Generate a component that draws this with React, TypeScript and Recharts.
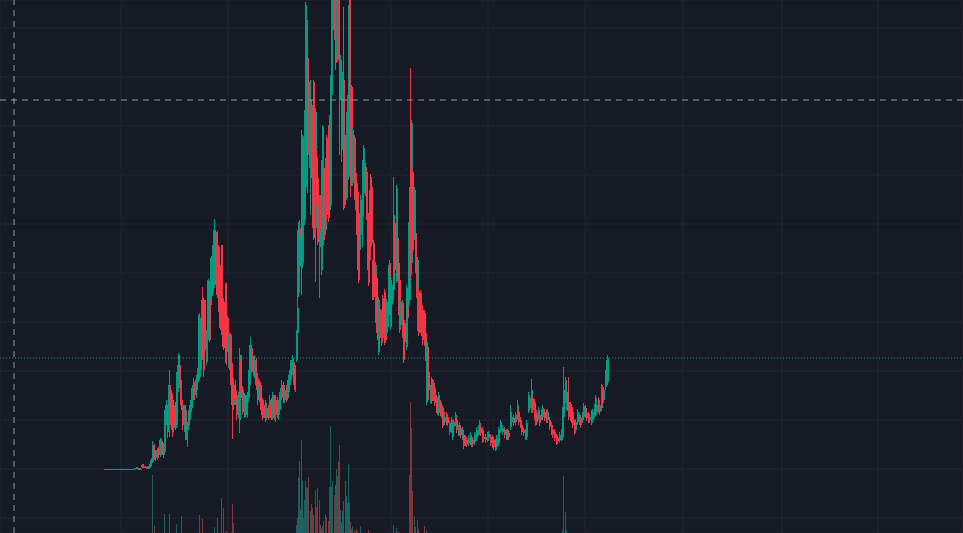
import React from 'react';
import { ComposedChart, Bar, XAxis, YAxis, CartesianGrid, ReferenceLine, Cell } from 'recharts';

// day index (days since listing)
const day = [
  5, 6.5, 8, 9.5, 11, 12.5, 14, 15.5, 17, 18.5, 20, 21.5, 23, 24.5, 26, 27.5, 29, 30.5, 32, 33.5,
  35, 36.5, 38, 39.5, 41, 42.5, 44, 45.5, 47, 48.5, 50,
  51.5, 53, 54.5, 56, 57.5, 59, 60.5, 62, 63.5, 65,
  66.5, 68, 69.5, 71, 72.5, 74, 75.5, 77, 78.5, 80,
  81.5, 83, 84.5, 86, 87.5, 89, 90.5, 92, 93.5, 95,
  96.5, 98, 99.5, 101, 102.5, 104, 105.5, 107, 108.5, 110,
  111.5, 113, 114.5, 116, 117.5, 119, 120.5, 122, 123.5, 125,
  126.5, 128, 129.5, 131, 132.5, 134, 135.5, 137, 138.5, 140,
  141.5, 143, 144.5, 146, 147.5, 149, 150.5, 152, 153.5, 155,
  156.5, 158, 159.5, 161, 162.5, 164, 165.5, 167, 168.5, 170,
  171.5, 173, 174.5, 176, 177.5, 179, 180.5, 182, 183.5, 185,
  186.5, 188, 189.5, 191, 192.5, 194, 195.5,
  197, 198, 199, 200, 201, 202, 203, 204, 205, 206,
  207, 208, 209, 210.5, 212, 213, 214, 216, 217, 218,
  220, 221, 222, 223, 224, 226, 227, 229, 230, 231,
  232, 233, 234.5, 236, 237, 238, 239, 240, 241, 242,
  243, 244, 245.5, 247, 248, 249, 250, 251, 252, 253,
  255, 256, 257, 258, 259, 261, 263, 264, 266, 267,
  268, 269, 270, 271, 272, 273, 274, 276, 277, 278,
  279, 281, 282, 283, 285, 286, 287, 289, 290, 291,
  293, 294, 295, 297, 298, 299, 300, 301, 303, 304,
  305, 307, 308, 309, 310, 311, 312, 313, 314, 315,
  316, 317, 318, 319, 320, 321, 322, 323, 325, 326,
  327, 328, 329,
  331, 332, 334, 335, 337, 338, 339, 341, 342, 343,
  344, 345, 347, 348, 350, 352, 353, 354, 356, 357,
  359, 360, 361, 363, 364, 366, 367, 369, 371, 372,
  373, 375, 377, 379, 380, 381, 383, 384, 386, 388,
  389, 391, 393, 394, 396, 397, 399, 401, 402, 403,
  405, 407, 408, 409, 411, 412, 414, 416, 418, 419,
  421, 422, 424, 426, 427, 429, 430, 432, 433, 435,
  436, 437, 439, 440, 442, 443, 445, 447, 448, 450,
  452, 453, 455, 457, 458, 460, 462, 463, 464, 466,
  467, 468, 469, 471, 472, 473, 475, 476, 478, 480,
  481, 483, 484, 486, 487, 489, 490, 492, 493, 495,
  496, 497, 499, 500, 502, 503, 504, 506, 507, 508,
];

const open = [
  49, 49, 49, 49, 49, 49, 49, 49, 49, 49, 49, 49, 49, 49, 49, 49, 49, 49, 49, 49,
  49, 49.5, 50.5, 49.5, 49.5, 53, 52.5, 51.5, 51, 49.5, 50,
  53, 57, 72, 66, 60, 68, 63, 77, 70, 66,
  98, 110, 86, 128, 118, 90, 110, 93, 130, 153,
  135, 113, 93, 108, 78, 92, 103, 110, 123, 132,
  123, 136, 141, 148, 218, 218, 215, 156, 185, 235,
  218, 225, 233, 286, 285, 271, 251, 273, 218, 213,
  235, 200, 150, 183, 151, 113, 133, 123, 103, 98,
  158, 128, 106, 120, 103, 120, 138, 170, 158, 146,
  156, 140, 120, 133, 118, 103, 113, 100, 108, 103,
  116, 100, 120, 106, 118, 103, 113, 123, 133, 118,
  128, 120, 130, 138, 148, 156, 143,
  158, 185, 225, 290, 256, 383, 255, 301, 298, 331,
  458, 460, 436, 350, 413, 403, 436, 290, 361, 340,
  271, 318, 248, 288, 350, 288, 380, 390, 368, 313,
  423, 498, 548, 548, 465, 460, 528, 460, 421, 421,
  371, 438, 378, 320, 368, 341, 528, 428, 431, 335,
  380, 345, 335, 326, 305, 283, 301, 325, 351, 346,
  305, 280, 325, 341, 331, 255, 275, 198, 240, 221,
  166, 206, 175, 220, 226, 205, 185, 215, 255, 191,
  218, 228, 295, 238, 280, 255, 238, 193, 215, 196,
  195, 171, 225, 213, 218, 346, 255, 346, 278, 285,
  285, 260, 190, 226, 218, 225, 185, 208, 205, 185,
  116, 171, 146,
  118, 139, 120, 130, 121, 116, 105, 116, 103, 110,
  106, 96, 103, 101, 86, 98, 81, 91, 95, 98,
  85, 93, 90, 81, 83, 75, 78, 75, 76, 80,
  78, 76, 80, 85, 86, 90, 88, 79, 81, 79,
  80, 81, 80, 78, 76, 71, 75, 88, 90, 86,
  88, 81, 86, 85, 91, 96, 100, 96, 101, 106,
  98, 93, 88, 86, 81, 108, 110, 108, 120, 116,
  95, 105, 101, 103, 106, 101, 106, 105, 98, 98,
  93, 88, 86, 81, 80, 78, 80, 81, 101, 118,
  111, 123, 116, 113, 111, 106, 95, 88, 96, 96,
  100, 98, 101, 110, 105, 103, 98, 96, 98, 103,
  105, 106, 118, 106, 110, 130, 118, 131, 135, 136,
];

const high = [
  49.5, 49.5, 49.5, 49.5, 49.5, 49.5, 49.5, 49.5, 49.5, 49.5, 49.5, 49.5, 49.5, 49.5, 49.5, 49.5, 49.5, 49.5, 49.5, 49.5,
  50.5, 51, 51, 50, 50, 54, 54, 52, 51.5, 52.5, 54.5,
  60, 77, 74, 68, 70, 71, 80, 79, 75, 108,
  118, 113, 148, 133, 125, 118, 116, 146, 165, 163,
  138, 118, 113, 113, 96, 108, 118, 130, 140, 136,
  143, 150, 205, 200, 231, 220, 218, 188, 239, 237,
  262, 273, 299, 288, 287, 273, 253, 273, 220, 216,
  235, 202, 185, 185, 155, 140, 138, 128, 126, 170,
  163, 132, 125, 123, 126, 148, 181, 173, 162, 163,
  160, 145, 138, 136, 120, 118, 118, 115, 113, 123,
  120, 126, 123, 123, 121, 118, 130, 138, 136, 133,
  133, 138, 148, 158, 163, 160, 153,
  188, 288, 296, 298, 282, 388, 383, 378, 408, 516,
  513, 476, 440, 438, 418, 408, 438, 410, 368, 343,
  323, 323, 358, 393, 353, 360, 383, 393, 403, 443,
  558, 568, 568, 568, 548, 538, 548, 528, 463, 428,
  446, 511, 383, 406, 423, 513, 538, 433, 433, 390,
  383, 348, 338, 328, 308, 323, 358, 373, 355, 348,
  308, 283, 328, 344, 334, 258, 278, 256, 243, 224,
  220, 209, 208, 223, 229, 208, 219, 253, 258, 241,
  233, 341, 298, 333, 283, 258, 241, 219, 218, 199,
  198, 233, 228, 296, 331, 450, 398, 349, 323, 331,
  288, 263, 261, 229, 223, 228, 216, 213, 208, 188,
  178, 173, 150,
  133, 141, 138, 133, 123, 118, 126, 118, 116, 113,
  108, 104, 106, 104, 98, 101, 96, 99, 106, 101,
  93, 96, 93, 91, 86, 83, 81, 83, 86, 83,
  81, 86, 91, 93, 98, 93, 91, 84, 84, 86,
  87, 84, 83, 81, 79, 83, 91, 98, 96, 93,
  91, 89, 89, 88, 113, 104, 103, 106, 118, 109,
  101, 96, 91, 89, 98, 126, 123, 139, 123, 119,
  109, 108, 111, 106, 109, 113, 109, 108, 109, 101,
  96, 91, 89, 84, 83, 86, 89, 111, 151, 141,
  124, 126, 141, 116, 114, 109, 98, 99, 109, 104,
  103, 106, 115, 113, 108, 106, 104, 108, 109, 114,
  123, 116, 121, 116, 134, 133, 131, 148, 158, 163,
];

const low = [
  48.5, 48.5, 48.5, 48.5, 48.5, 48.5, 48.5, 48.5, 48.5, 48.5, 48.5, 48.5, 48.5, 48.5, 48.5, 48.5, 48.5, 48.5, 48.5, 48.5,
  48.5, 49, 49, 49, 49, 50.5, 50.5, 50, 49.5, 49, 49.5,
  52, 55, 58, 57, 58, 60, 61, 63, 60, 63,
  93, 80, 81, 93, 81, 86, 88, 90, 126, 130,
  108, 88, 86, 78, 71, 88, 98, 106, 118, 118,
  120, 128, 138, 141, 158, 141, 168, 153, 178, 176,
  213, 222, 230, 233, 220, 206, 188, 183, 168, 170,
  153, 166, 148, 133, 79, 108, 113, 98, 100, 85,
  120, 103, 100, 101, 100, 116, 133, 145, 142, 140,
  128, 113, 116, 108, 98, 100, 96, 98, 98, 100,
  98, 98, 98, 96, 100, 98, 108, 118, 115, 115,
  116, 118, 126, 133, 143, 133, 126,
  156, 183, 221, 250, 252, 223, 250, 296, 293, 328,
  448, 325, 378, 303, 340, 290, 278, 236, 313, 273,
  220, 288, 243, 283, 273, 283, 298, 296, 358, 308,
  418, 493, 478, 448, 460, 456, 458, 363, 418, 356,
  368, 308, 313, 318, 358, 338, 383, 321, 332, 332,
  318, 308, 283, 248, 235, 268, 271, 322, 322, 298,
  248, 232, 255, 272, 272, 218, 218, 195, 185, 178,
  163, 180, 172, 177, 173, 175, 182, 191, 203, 188,
  213, 223, 245, 235, 237, 203, 185, 190, 180, 155,
  173, 168, 197, 210, 215, 240, 252, 265, 273, 282,
  245, 220, 187, 182, 193, 185, 182, 173, 172, 157,
  113, 116, 123,
  115, 114, 117, 112, 105, 103, 102, 102, 100, 90,
  92, 93, 93, 92, 83, 85, 78, 88, 92, 85,
  82, 82, 80, 78, 69, 72, 71, 72, 73, 71,
  71, 73, 77, 82, 83, 82, 75, 76, 75, 76,
  77, 72, 70, 68, 67, 68, 72, 85, 87, 83,
  80, 78, 78, 78, 88, 93, 92, 93, 98, 93,
  90, 83, 82, 78, 78, 105, 107, 105, 105, 98,
  92, 93, 98, 92, 98, 98, 97, 95, 95, 88,
  83, 80, 77, 73, 74, 75, 77, 78, 98, 115,
  108, 107, 98, 97, 95, 90, 83, 85, 93, 93,
  90, 95, 98, 100, 97, 95, 95, 93, 95, 100,
  102, 103, 105, 103, 107, 112, 115, 128, 132, 133,
];

const close = [
  49, 49, 49, 49, 49, 49, 49, 49, 49, 49, 49, 49, 49, 49, 49, 49, 49, 49, 49, 49,
  50, 50.5, 49.5, 49.5, 49.5, 51, 51, 50.5, 50, 52, 54,
  58, 73, 62, 60, 68, 63, 78, 66, 63, 100,
  113, 88, 133, 98, 88, 113, 93, 133, 153, 135,
  113, 93, 108, 80, 93, 103, 113, 125, 133, 123,
  138, 148, 203, 196, 173, 148, 171, 185, 238, 178,
  260, 270, 288, 236, 223, 208, 190, 198, 171, 173,
  155, 168, 183, 138, 113, 133, 118, 103, 120, 163,
  126, 108, 120, 106, 123, 143, 173, 150, 146, 158,
  133, 118, 133, 113, 103, 113, 100, 110, 101, 118,
  100, 123, 106, 118, 103, 113, 126, 133, 120, 128,
  120, 133, 143, 153, 158, 138, 128,
  186, 210, 294, 256, 278, 253, 381, 375, 401, 460,
  498, 363, 381, 435, 345, 295, 280, 406, 318, 276,
  320, 293, 355, 391, 278, 355, 303, 300, 398, 439,
  538, 548, 488, 455, 528, 523, 478, 421, 458, 373,
  442, 310, 318, 401, 418, 511, 388, 363, 335, 388,
  320, 311, 288, 275, 238, 318, 353, 370, 325, 301,
  280, 235, 258, 275, 275, 221, 221, 253, 188, 181,
  218, 183, 205, 180, 176, 178, 216, 250, 206, 238,
  228, 303, 248, 330, 240, 206, 188, 216, 183, 158,
  176, 230, 200, 293, 328, 243, 395, 268, 318, 328,
  248, 223, 258, 185, 198, 188, 213, 178, 175, 160,
  176, 118, 128,
  131, 117, 135, 115, 108, 106, 123, 105, 113, 100,
  95, 101, 96, 95, 95, 88, 93, 96, 103, 88,
  90, 85, 83, 88, 72, 80, 74, 80, 83, 74,
  74, 83, 88, 90, 95, 85, 78, 81, 78, 83,
  84, 75, 73, 71, 70, 80, 88, 95, 93, 90,
  83, 86, 81, 81, 106, 101, 95, 103, 113, 96,
  93, 86, 85, 81, 95, 123, 120, 128, 108, 101,
  106, 96, 108, 95, 101, 110, 100, 98, 106, 91,
  86, 83, 80, 76, 77, 83, 86, 108, 128, 138,
  121, 110, 101, 100, 98, 93, 86, 96, 106, 101,
  93, 103, 112, 103, 100, 98, 101, 105, 106, 111,
  120, 113, 108, 113, 131, 115, 128, 145, 155, 160,
];

const volume = [
  0, 0, 0, 0, 0, 0, 0, 0, 0, 0, 0, 0, 0, 0, 0, 0, 0, 0, 0, 0,
  0, 0, 0, 0, 0, 0, 0, 0, 0, 0, 0,
  0, 58, 7, 0, 0, 0, 0, 0, 0, 19,
  0, 0, 19, 0, 0, 0, 0, 9, 0, 0,
  17, 0, 0, 0, 0, 0, 0, 0, 0, 0,
  0, 0, 18, 0, 14, 0, 0, 0, 0, 0,
  0, 0, 6, 0, 15, 0, 0, 35, 25, 0,
  2, 0, 0, 0, 29, 10, 0, 0, 0, 0,
  0, 0, 0, 0, 0, 0, 0, 0, 0, 0,
  0, 0, 0, 0, 0, 0, 0, 0, 0, 0,
  0, 0, 0, 0, 0, 0, 0, 0, 0, 0,
  0, 0, 0, 0, 0, 0, 0,
  8, 15, 55, 72, 23, 93, 52, 15, 33, 52,
  46, 45, 56, 22, 29, 25, 18, 43, 26, 45,
  33, 8, 4, 7, 12, 19, 16, 12, 46, 107,
  46, 52, 38, 48, 64, 57, 71, 88, 23, 11,
  22, 32, 52, 37, 30, 69, 31, 11, 4, 7,
  3, 0, 4, 2, 0, 7, 0, 0, 0, 0,
  0, 3, 0, 0, 0, 0, 0, 0, 0, 0,
  0, 0, 0, 0, 0, 0, 0, 0, 0, 0,
  0, 8, 0, 5, 0, 2, 0, 0, 0, 0,
  0, 0, 0, 0, 58, 131, 105, 42, 0, 17,
  6, 0, 13, 4, 0, 0, 0, 0, 7, 0,
  3, 0, 0,
  0, 0, 0, 0, 0, 0, 0, 0, 0, 0,
  0, 0, 0, 0, 0, 0, 0, 0, 0, 0,
  0, 0, 0, 0, 0, 0, 0, 0, 0, 0,
  0, 0, 0, 0, 0, 0, 0, 0, 0, 0,
  0, 0, 0, 0, 0, 0, 0, 0, 0, 0,
  0, 0, 0, 0, 0, 0, 0, 0, 0, 0,
  0, 0, 0, 0, 0, 0, 0, 0, 0, 0,
  0, 0, 0, 0, 0, 0, 0, 0, 0, 0,
  0, 0, 0, 0, 0, 0, 0, 3, 57, 21,
  3, 0, 0, 0, 0, 0, 0, 0, 0, 0,
  0, 0, 0, 0, 0, 0, 0, 0, 0, 0,
  0, 0, 0, 0, 0, 0, 0, 0, 0, 0,
];

// time-scale grid marks and price-scale grid marks
const timeTicks = [21, 128, 291, 388, 485, 583, 682, 778];
const priceTicks = [0, 49, 98, 147, 196, 245, 294, 343, 392, 441, 490];
const crosshairDay = -86;
const crosshairPrice = 418;

const UP = '#089981';
const DOWN = '#f23645';
const UP_VOL = 'rgba(38,166,154,0.5)';
const DOWN_VOL = 'rgba(239,83,80,0.5)';

const candles = day.map((t, i) => ({
  t,
  open: open[i],
  high: high[i],
  low: low[i],
  close: close[i],
  volume: volume[i],
}));

const lastClose = close[close.length - 1];

const Candle = (props: any) => {
  const { x, y, width, height, payload } = props;
  if (x == null || y == null || !payload) return null;
  const top = Math.min(y, y + height);
  const h = Math.abs(height);
  const span = payload.high - payload.low;
  const toPix = (v: number) => (span > 0 ? top + ((payload.high - v) / span) * h : top);
  const color = payload.close >= payload.open ? UP : DOWN;
  // snap to whole pixels so the thin candles stay sharp
  const cx = x + width / 2;
  const wickX = Math.floor(cx);
  const bodyX = Math.round(cx - 1);
  const bTop = toPix(Math.max(payload.open, payload.close));
  const bBot = toPix(Math.min(payload.open, payload.close));
  return (
    <g shapeRendering="crispEdges">
      <rect x={wickX} y={top} width={1} height={Math.max(h, 1)} fill={color} />
      <rect x={bodyX} y={bTop} width={2} height={Math.max(bBot - bTop, 1)} fill={color} />
    </g>
  );
};

const VolumeBar = (props: any) => {
  const { x, y, width, height, fill } = props;
  if (x == null || !height) return null;
  return <rect x={Math.floor(x + width / 2)} y={y} width={1} height={height} fill={fill} shapeRendering="crispEdges" />;
};

export default function App() {
  return (
    <div style={{ position: 'absolute', left: 0, top: 0, width: 963, height: 533, background: '#161a25' }}>
      <ComposedChart
        width={963}
        height={533}
        data={candles}
        margin={{ top: 0, right: 0, bottom: 0, left: 0 }}
      >
        <XAxis
          xAxisId="time"
          dataKey="t"
          type="number"
          domain={[-100, 863]}
          ticks={timeTicks}
          interval={0}
          hide
        />
        <XAxis xAxisId="vol" dataKey="t" type="number" domain={[-100, 863]} hide />
        <YAxis
          yAxisId="price"
          type="number"
          domain={[-15, 518]}
          ticks={priceTicks}
          interval={0}
          allowDataOverflow
          hide
        />
        <YAxis yAxisId="vol" type="number" domain={[0, 533]} allowDataOverflow hide />
        <CartesianGrid xAxisId="time" yAxisId="price" stroke="#242733" strokeWidth={1} />
        <Bar
          xAxisId="vol"
          yAxisId="vol"
          dataKey="volume"
          barSize={1.2}
          shape={VolumeBar}
          isAnimationActive={false}
        >
          {candles.map((c, i) => (
            <Cell key={`v-${i}`} fill={c.close >= c.open ? UP_VOL : DOWN_VOL} />
          ))}
        </Bar>
        <Bar
          xAxisId="time"
          yAxisId="price"
          dataKey={(d: any) => [d.low, d.high]}
          barSize={1.3}
          shape={Candle}
          isAnimationActive={false}
        />
        <ReferenceLine
          xAxisId="time"
          yAxisId="price"
          y={lastClose}
          stroke={UP}
          strokeDasharray="1 2"
          strokeWidth={1}
        />
        <ReferenceLine
          xAxisId="time"
          yAxisId="price"
          y={crosshairPrice}
          stroke="#9598a1"
          strokeDasharray="6 5"
          strokeWidth={1}
        />
        <ReferenceLine
          xAxisId="time"
          yAxisId="price"
          x={crosshairDay}
          stroke="#9598a1"
          strokeDasharray="6 5"
          strokeWidth={1}
        />
      </ComposedChart>
    </div>
  );
}
